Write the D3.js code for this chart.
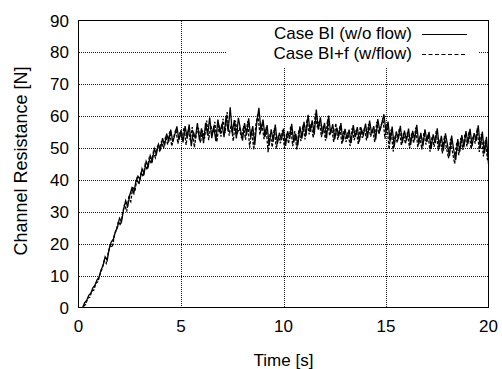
<!DOCTYPE html>
<html><head><meta charset="utf-8">
<script src="https://cdn.jsdelivr.net/npm/d3@7"></script>
<style>
html,body{margin:0;padding:0;background:#fff;}
text{font-family:"Liberation Sans",Arial,Helvetica,sans-serif;fill:#000;}
</style></head>
<body><svg id="chart" width="502" height="369"></svg>
<script>
// ---- data ----
const xTicks = [0, 5, 10, 15, 20];
const yTicks = [0, 10, 20, 30, 40, 50, 60, 70, 80, 90];
const seriesNames = ["Case BI (w/o flow)", "Case BI+f (w/flow)"];
const startA = 0.2, startB = 0.25, stepT = 0.1;
const valuesA = [
 0.0, 1.5, 2.2, 3.8, 4.5, 6.2, 7.0, 8.6,
 9.5, 11.8, 13.2, 15.9, 14.8, 18.5, 20.6, 21.4, 23.8, 25.1,
 28.0, 26.9, 30.8, 33.5, 31.6, 35.2, 37.4, 35.8, 39.6, 41.2,
 40.1, 43.5, 42.0, 45.8, 44.2, 47.6, 45.9, 49.8, 48.1, 51.2,
 49.6, 53.1, 50.8, 54.5, 52.0, 55.8, 51.9, 54.2, 56.8, 52.5,
 55.6, 51.8, 56.9, 53.2, 57.4, 50.6, 55.1, 53.0, 57.8, 52.4,
 56.2, 51.5, 57.9, 54.0, 59.6, 53.1, 56.8, 52.2, 58.9, 55.0,
 57.6, 53.4, 60.1, 55.2, 62.8, 54.6, 58.8, 53.0, 59.5, 55.9,
 52.3, 57.8, 54.1, 59.3, 53.5, 56.9, 51.0, 58.2, 62.6, 55.4,
 58.9, 53.6, 57.2, 50.8, 55.9, 52.1, 57.4, 51.3, 54.8, 52.6,
 56.1, 50.7, 55.3, 52.9, 57.6, 51.8, 54.4, 50.9, 56.8, 53.0,
 58.2, 53.9, 60.4, 55.1, 58.7, 54.2, 62.1, 55.8, 59.6, 54.3,
 57.9, 53.0, 60.2, 54.6, 57.5, 52.8, 56.4, 53.7, 57.8, 52.1,
 56.0, 52.9, 55.8, 51.6, 57.2, 53.4, 56.6, 52.0, 55.9, 54.1,
 57.7, 53.2, 58.6, 54.5, 56.9, 52.7, 59.1, 55.3, 57.8, 60.6,
 54.9, 58.3, 52.1, 56.7, 50.4, 55.2, 52.8, 57.0, 51.6, 55.5,
 52.3, 56.1, 50.9, 55.4, 52.6, 57.3, 51.2, 54.8, 50.5, 55.9,
 52.0, 55.1, 49.8, 54.3, 51.5, 56.2, 50.1, 53.8, 49.2, 54.6,
 51.0, 47.5, 53.9, 49.6, 46.2, 52.8, 48.9, 54.1, 50.2, 55.3,
 51.4, 56.0, 50.6, 54.7, 52.3, 57.1, 49.9, 55.2, 48.3, 53.5,
 45.0
];
const valuesB = [
 0.4, 1.0, 2.9, 3.2, 5.1, 5.5, 7.6, 8.1,
 10.4, 12.2, 14.6, 13.8, 17.2, 19.4, 18.9, 22.6, 24.5, 27.0,
 25.8, 29.6, 32.4, 30.1, 34.5, 33.2, 37.9, 36.4, 40.3, 38.6,
 42.4, 41.0, 44.8, 43.2, 46.9, 45.1, 48.7, 47.0, 50.5, 49.2,
 52.2, 49.9, 53.7, 51.1, 55.2, 50.6, 53.6, 55.9, 51.4, 54.9,
 52.7, 56.4, 51.0, 55.8, 52.5, 56.6, 50.2, 54.4, 56.3, 51.7,
 55.5, 53.0, 58.6, 52.5, 57.1, 54.6, 58.2, 51.9, 57.3, 53.6,
 59.2, 54.7, 61.3, 53.9, 57.4, 52.2, 58.6, 54.8, 56.2, 53.1,
 56.9, 52.6, 58.4, 50.1, 55.8, 49.5, 57.1, 60.9, 54.2, 57.6,
 52.8, 56.4, 48.7, 54.6, 50.3, 56.2, 49.8, 53.9, 51.5, 55.6,
 49.9, 54.5, 51.4, 56.8, 50.6, 55.3, 49.6, 55.7, 52.2, 57.3,
 52.7, 59.1, 54.3, 57.6, 53.2, 60.8, 56.7, 58.4, 53.4, 57.2,
 52.3, 59.0, 53.8, 56.2, 51.9, 57.8, 52.6, 56.9, 51.2, 55.4,
 51.9, 54.9, 50.7, 56.3, 52.5, 55.7, 51.1, 56.8, 53.2, 56.4,
 52.4, 57.5, 53.6, 55.9, 51.8, 58.2, 54.4, 56.7, 59.3, 52.9,
 57.4, 49.6, 55.8, 48.9, 54.1, 51.7, 56.2, 50.8, 54.6, 51.3,
 55.0, 49.9, 54.6, 51.5, 56.4, 50.3, 53.7, 49.6, 54.8, 51.1,
 54.2, 48.9, 53.6, 50.4, 55.4, 49.2, 52.9, 48.3, 53.8, 50.0,
 46.8, 52.9, 48.5, 45.1, 51.8, 47.8, 53.2, 49.4, 54.4, 50.5,
 55.2, 49.7, 53.8, 51.4, 56.2, 48.8, 54.4, 47.4, 52.6, 46.2
];

// ---- layout ----
const L = 78.5, R = 488.5, T = 20.5, B = 307.5;
const svg = d3.select("#chart");
const x = d3.scaleLinear().domain([0, 20]).range([L, R]);
const y = d3.scaleLinear().domain([0, 90]).range([B, T]);

const legendBox = {x0: 226, x1: 479, y0: 21, y1: 68};

// grid (dotted)
const grid = svg.append("g").attr("stroke", "#1a1a1a").attr("stroke-width", 1)
  .attr("stroke-dasharray", "1,1").attr("fill", "none");
xTicks.slice(1, -1).forEach(v => {
  const px = Math.round(x(v)) + 0.5;
  const inLegend = px > legendBox.x0 && px < legendBox.x1;
  grid.append("line").attr("x1", px).attr("x2", px)
    .attr("y1", inLegend ? legendBox.y1 : 21).attr("y2", 307);
});
yTicks.slice(1, -1).forEach(v => {
  const py = Math.round(y(v)) + 0.5;
  if (py < legendBox.y1) {
    grid.append("line").attr("x1", 79).attr("x2", legendBox.x0).attr("y1", py).attr("y2", py);
    grid.append("line").attr("x1", legendBox.x1).attr("x2", 488).attr("y1", py).attr("y2", py);
  } else {
    grid.append("line").attr("x1", 79).attr("x2", 488).attr("y1", py).attr("y2", py);
  }
});

// data lines
const line = d3.line().x(d => x(d[0])).y(d => y(d[1]));
const ptsA = valuesA.map((v, i) => [startA + i * stepT, v]);
const ptsB = valuesB.map((v, i) => [startB + i * stepT, v]);
svg.append("path").datum(ptsB).attr("d", line).attr("fill", "none")
  .attr("stroke", "#000").attr("stroke-width", 1.3).attr("stroke-dasharray", "3,1.5");
svg.append("path").datum(ptsA).attr("d", line).attr("fill", "none")
  .attr("stroke", "#000").attr("stroke-width", 1.3);

// border
svg.append("rect").attr("x", L).attr("y", T).attr("width", R - L).attr("height", B - T)
  .attr("fill", "none").attr("stroke", "#000").attr("stroke-width", 1);

// axes labels
const fs = 17;
svg.append("g").selectAll("text").data(xTicks).join("text")
  .attr("x", d => x(d)).attr("y", 332).attr("text-anchor", "middle")
  .attr("font-size", fs).text(d => d);
svg.append("g").selectAll("text").data(yTicks).join("text")
  .attr("x", 69).attr("y", d => y(d) + 6).attr("text-anchor", "end")
  .attr("font-size", fs).text(d => d);
svg.append("text").attr("x", (L + R) / 2).attr("y", 366).attr("text-anchor", "middle")
  .attr("font-size", fs).text("Time [s]");
svg.append("text").attr("transform", "translate(27,161) rotate(-90)")
  .attr("text-anchor", "middle").attr("font-size", 18).text("Channel Resistance [N]");

// legend
const leg = svg.append("g");
const legY = [33, 53];
seriesNames.forEach((name, i) => {
  leg.append("text").attr("x", 412).attr("y", legY[i] + 6).attr("text-anchor", "end")
    .attr("font-size", fs).text(name);
  leg.append("line").attr("x1", 422).attr("x2", 467)
    .attr("y1", legY[i] + 1.5).attr("y2", legY[i] + 1.5)
    .attr("stroke", "#000").attr("stroke-width", 1)
    .attr("stroke-dasharray", i === 1 ? "4,2.5" : null);
});
</script></body></html>
